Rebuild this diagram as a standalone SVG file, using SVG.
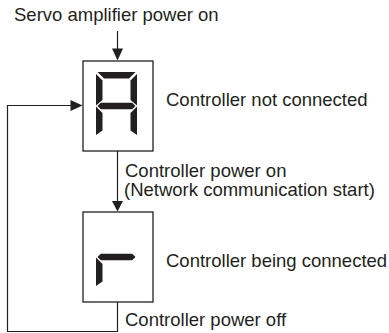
<svg xmlns="http://www.w3.org/2000/svg" xmlns:xlink="http://www.w3.org/1999/xlink" width="389" height="333" viewBox="0 0 389 333">
  <style>
    .lbl { font-family: "Liberation Sans", Arial, sans-serif; font-size: 18.5px; fill: #231f20; }
    .box { fill: #ffffff; stroke: #231f20; stroke-width: 1.3; }
    .seg { fill: #231f20; }
    .conn { fill: none; stroke: #231f20; stroke-width: 1.2; }
    .head { fill: #231f20; }
  </style>
  <defs>
    <polygon id="segA" class="seg" points="1.5,0 39.5,0 33,6.5 8,6.5"/>
    <polygon id="segB" class="seg" points="41,2 34.5,8.5 34.5,28 41,33.5"/>
    <polygon id="segF" class="seg" points="0,2 6.5,8.5 6.5,28 0,33.5"/>
    <polygon id="segG" class="seg" points="1.5,34 4.8,30.7 36.2,30.7 39.5,34 36.2,37.3 4.8,37.3"/>
    <polygon id="segE" class="seg" points="0,34.5 6.5,41 6.5,58.5 0,63"/>
    <polygon id="segC" class="seg" points="41,34.5 34.5,41 34.5,58.5 41,63"/>
  </defs>

  <text class="lbl" x="14" y="21">Servo amplifier power on</text>

  <g id="connectors">
    <line class="conn" x1="117.5" y1="31" x2="117.5" y2="50"/>
    <polygon class="head" points="112,48.5 123,48.5 117.5,60.5"/>
    <line class="conn" x1="117.5" y1="151" x2="117.5" y2="203"/>
    <polygon class="head" points="112,201 123,201 117.5,211.5"/>
    <polyline class="conn" points="117.5,302 117.5,331.5 7.5,331.5 7.5,105.5 72,105.5"/>
    <polygon class="head" points="70.5,100 70.5,111 82.5,105.5"/>
  </g>

  <g id="node-not-connected">
    <rect class="box" x="83" y="61" width="70" height="90"/>
    <g transform="translate(96,72)">
      <use xlink:href="#segA"/>
      <use xlink:href="#segB"/>
      <use xlink:href="#segF"/>
      <use xlink:href="#segG"/>
      <use xlink:href="#segE"/>
      <use xlink:href="#segC"/>
    </g>
    <text class="lbl" x="166" y="105.5">Controller not connected</text>
  </g>

  <g id="node-being-connected">
    <rect class="box" x="83" y="212" width="70" height="90"/>
    <g transform="translate(96,223)">
      <use xlink:href="#segG"/>
      <use xlink:href="#segE"/>
    </g>
    <text class="lbl" x="166" y="267">Controller being connected</text>
  </g>

  <text class="lbl" x="125" y="177">Controller power on</text>
  <text class="lbl" x="124" y="196">(Network communication start)</text>
  <text class="lbl" x="125" y="326">Controller power off</text>
</svg>
